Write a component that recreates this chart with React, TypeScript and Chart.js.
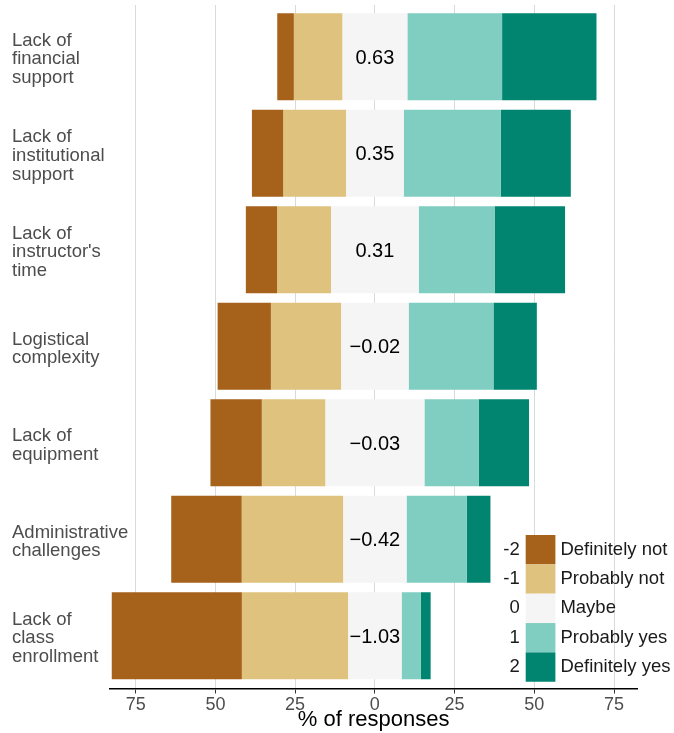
import { useEffect, useRef } from 'react';
import { Chart, registerables } from 'chart.js';

Chart.register(...registerables);

const categories: string[][] = [
  ['Lack of', 'financial', 'support'],
  ['Lack of', 'institutional', 'support'],
  ['Lack of', "instructor's", 'time'],
  ['Logistical', 'complexity'],
  ['Lack of', 'equipment'],
  ['Administrative', 'challenges'],
  ['Lack of', 'class', 'enrollment'],
];

const responseLevels = ['Definitely not', 'Probably not', 'Maybe', 'Probably yes', 'Definitely yes'];
const responseCodes = ['-2', '-1', '0', '1', '2'];

const definitelyNot = [5.2, 9.8, 9.8, 16.7, 16.1, 22.1, 40.8];
const probablyNot = [15.2, 19.7, 16.9, 22.0, 19.9, 31.8, 33.3];
const maybe = [20.4, 18.1, 27.5, 21.2, 31.1, 19.9, 16.8];
const probablyYes = [29.7, 30.4, 23.8, 26.6, 17.0, 18.9, 6.0];
const definitelyYes = [29.6, 22.0, 22.1, 13.6, 15.8, 7.4, 3.1];

const meanScores = [0.63, 0.35, 0.31, -0.02, -0.03, -0.42, -1.03];

const xTickValues = [-75, -50, -25, 0, 25, 50, 75];

const palette = ['#a6611a', '#dfc27d', '#f5f5f5', '#80cdc1', '#018571'];

const FONT = "'Liberation Sans', Arial, Helvetica, sans-serif";

export default function App() {
  const ref = useRef<HTMLCanvasElement>(null);

  useEffect(() => {
    const series = [definitelyNot, probablyNot, maybe, probablyYes, definitelyYes];
    const starts = categories.map((_, i) => -(definitelyNot[i] + probablyNot[i] + maybe[i] / 2));

    const datasets = series.map((vals, k) => ({
      label: responseLevels[k],
      data: vals.map((v, i) => {
        let s = starts[i];
        for (let j = 0; j < k; j++) s += series[j][i];
        return { x: [s, s + v], y: i + 1 };
      }),
      backgroundColor: palette[k],
      borderWidth: 0,
      grouped: false,
      barPercentage: 0.9,
      categoryPercentage: 1,
    }));

    const meanPlugin = {
      id: 'meanLabels',
      afterDatasetsDraw(chart: any) {
        const ctx = chart.ctx;
        const xs = chart.scales.x;
        const ys = chart.scales.y;
        ctx.save();
        ctx.font = `20px ${FONT}`;
        ctx.fillStyle = '#000000';
        ctx.textAlign = 'center';
        ctx.textBaseline = 'middle';
        meanScores.forEach((m, i) => {
          const txt = m < 0 ? '\u2212' + Math.abs(m).toFixed(2) : m.toFixed(2);
          ctx.fillText(txt, xs.getPixelForValue(0), ys.getPixelForValue(i + 1) + 1.5);
        });
        ctx.restore();
      },
    };

    const legendPlugin = {
      id: 'likertLegend',
      afterDraw(chart: any) {
        const ctx = chart.ctx;
        const area = chart.chartArea;
        const keyW = 29.7;
        const keyH = 29.35;
        const x0 = area.right - 111.6;
        const y0 = area.bottom - 153.5;
        ctx.save();
        ctx.font = `18.5px ${FONT}`;
        ctx.textBaseline = 'middle';
        responseLevels.forEach((name, k) => {
          const y = y0 + k * keyH;
          ctx.fillStyle = palette[k];
          ctx.fillRect(x0, y, keyW, keyH);
          ctx.fillStyle = '#1a1a1a';
          ctx.textAlign = 'right';
          ctx.fillText(responseCodes[k], x0 - 6, y + keyH / 2);
          ctx.textAlign = 'left';
          ctx.fillText(name, x0 + keyW + 5, y + keyH / 2);
        });
        ctx.restore();
      },
    };

    const chart = new Chart(ref.current as HTMLCanvasElement, {
      type: 'bar',
      data: { datasets: datasets as any },
      options: {
        indexAxis: 'y',
        animation: false,
        responsive: false,
        events: [],
        layout: { padding: { left: 12, right: 36.7, top: 5, bottom: 0 } },
        plugins: {
          legend: { display: false },
          tooltip: { enabled: false },
        },
        scales: {
          x: {
            type: 'linear',
            min: -83.05,
            max: 82.3,
            offset: false,
            afterBuildTicks: (s: any) => {
              s.ticks = xTickValues.map((v) => ({ value: v }));
            },
            afterFit: (s: any) => {
              s.height = 44.5;
              s.paddingLeft = 0;
              s.paddingRight = 0;
            },
            ticks: {
              callback: (v: any) => String(Math.abs(Number(v))),
              font: { family: FONT, size: 18 },
              color: '#4d4d4d',
              padding: 1,
              maxRotation: 0,
              autoSkip: false,
            },
            grid: {
              color: '#dadada',
              lineWidth: 1,
              tickColor: '#333333',
              tickLength: 5,
              drawTicks: true,
            },
            border: { display: true, color: '#000000', width: 1.6 },
            title: {
              display: true,
              text: '% of responses',
              font: { family: FONT, size: 22 },
              color: '#000000',
              padding: 0,
            },
          },
          y: {
            type: 'linear',
            reverse: true,
            offset: false,
            min: 0.464,
            max: 7.546,
            afterBuildTicks: (s: any) => {
              s.ticks = categories.map((_, i) => ({ value: i + 1 }));
            },
            afterFit: (s: any) => {
              s.width = 98;
              s.paddingTop = 0;
              s.paddingBottom = 0;
              s._computeLabelArea = () => undefined;
            },
            ticks: {
              callback: (v: any) => categories[Math.round(Number(v)) - 1],
              crossAlign: 'far',
              labelOffset: 2.5,
              font: { family: FONT, size: 18.5, lineHeight: 1.01 },
              color: '#4d4d4d',
              autoSkip: false,
            },
            grid: { display: false, offset: false },
            border: { display: false },
          },
        },
      } as any,
      plugins: [meanPlugin, legendPlugin],
    });

    return () => chart.destroy();
  }, []);

  return (
    <div style={{ position: 'absolute', left: 0, top: 0, width: 674, height: 733 }}>
      <canvas ref={ref} width={674} height={733} style={{ display: 'block', width: 674, height: 733 }} />
    </div>
  );
}
